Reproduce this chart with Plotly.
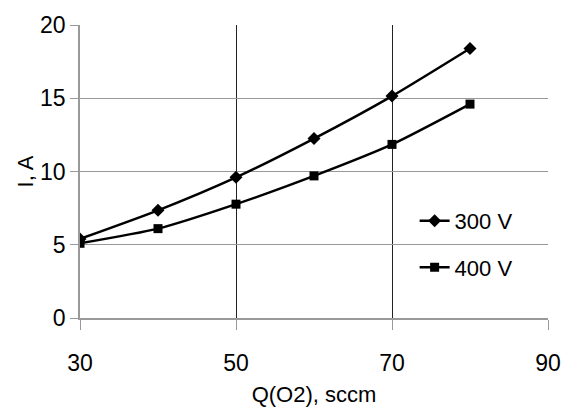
import plotly.graph_objects as go

q_o2 = [30, 40, 50, 60, 70, 80]
i_300v = [5.4, 7.35, 9.6, 12.25, 15.15, 18.4]
i_400v = [5.1, 6.1, 7.77, 9.7, 11.85, 14.6]
series_names = ["300 V", "400 V"]

fig = go.Figure()
fig.add_trace(go.Scatter(
    x=q_o2, y=i_300v, name=series_names[0], mode="lines+markers",
    line=dict(color="black", width=2.5, shape="spline", smoothing=0.6),
    marker=dict(symbol="diamond", size=10, color="black"),
    legendgroup="a"))
fig.add_trace(go.Scatter(
    x=q_o2, y=i_400v, name=series_names[1], mode="lines+markers",
    line=dict(color="black", width=2.5, shape="spline", smoothing=0.6),
    marker=dict(symbol="square", size=9, color="black"),
    legendgroup="b"))

font = "Liberation Sans, Arial, sans-serif"
fig.update_layout(
    width=570, height=407,
    margin=dict(l=80, r=22, t=22, b=89),
    paper_bgcolor="white", plot_bgcolor="white",
    font=dict(family=font, size=23, color="black"),
    showlegend=True,
    legend=dict(x=0.715, y=0.403, xanchor="left", yanchor="top",
                bgcolor="rgba(0,0,0,0)", tracegroupgap=15,
                font=dict(size=22)),
    xaxis=dict(range=[30, 90], dtick=20, tick0=30, automargin=False,
               showgrid=True, gridcolor="#222222", gridwidth=1,
               showline=True, linecolor="#999999", linewidth=1.5,
               ticks="outside", ticklen=10, tickcolor="#999999",
               ticklabelstandoff=14, zeroline=False,
               title=dict(text="Q(O2), sccm", font=dict(size=22))),
    yaxis=dict(range=[0, 20], dtick=5, automargin=True,
               showgrid=True, gridcolor="#999999", gridwidth=1,
               showline=True, linecolor="#999999", linewidth=1.5,
               ticks="outside", ticklen=8, tickcolor="#999999",
               zeroline=False,
               title=dict(text="I, A", font=dict(size=22), standoff=0)),
)
fig.write_html("out.html")
